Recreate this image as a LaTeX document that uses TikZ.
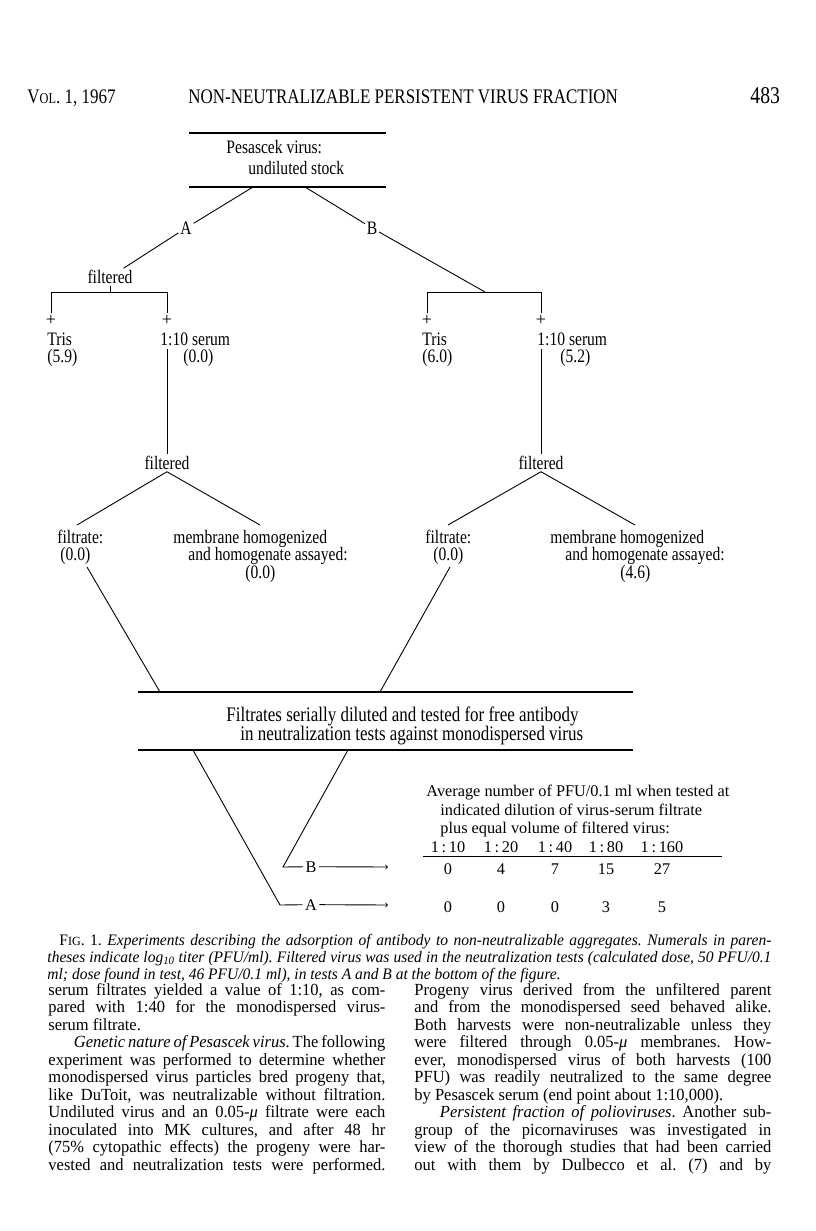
\documentclass[tikz,border=0pt]{standalone}
\usepackage{fontspec}
\setmainfont{Liberation Serif}
\newfontfamily\condfont[FakeStretch=0.82]{Liberation Serif}
\newfontfamily\bodyfont[FakeStretch=0.97]{Liberation Serif}
\frenchspacing

\begin{document}
\begin{tikzpicture}[x=1pt,y=-1pt,line width=0.9pt,
  txt/.style={inner sep=0pt,anchor=base west},
  fig/.style={txt,font=\condfont\fontsize{19}{21}\selectfont},
  big/.style={txt,font=\condfont\fontsize{20.7}{22}\selectfont},
  lbl/.style={inner sep=1.5pt,font=\condfont\fontsize{19}{21}\selectfont},
  plus/.style={inner sep=0pt,font=\fontsize{18}{18}\selectfont},
  tab/.style={inner sep=0pt,anchor=base,font=\fontsize{16.3}{18}\selectfont},
  body/.style={txt,font=\bodyfont\fontsize{17}{17.5}\selectfont},
  capt/.style={txt,font=\bodyfont\itshape\fontsize{16}{17}\selectfont},
  rule/.style={line width=1.2pt}]
  \useasboundingbox[fill=white] (0,0) rectangle (816,1231);

  % running head
  \node[big] (vol) at (27,103) {V{\fontsize{15}{16}\selectfont OL}. 1, 1967};
  \node[big] (title) at (188,103) {NON-NEUTRALIZABLE PERSISTENT VIRUS FRACTION};
  \node[big] (page) at (750,103) {\fontsize{24}{24}\selectfont 483};

  % points of the tree
  \coordinate (stockNW) at (189,133);
  \coordinate (stockNE) at (386,133);
  \coordinate (stockSW) at (189,187);
  \coordinate (stockSE) at (386,187);
  \coordinate (forkA) at (253,187);
  \coordinate (forkB) at (305,187);
  \coordinate (brA) at (110,292);
  \coordinate (brAl) at (51,292);
  \coordinate (brAr) at (167,292);
  \coordinate (brB) at (485,292);
  \coordinate (brBl) at (427,292);
  \coordinate (brBr) at (541,292);
  \coordinate (serA) at (167,349);
  \coordinate (serB) at (541,349);
  \coordinate (outA) at (87,567);
  \coordinate (outB) at (450,567);
  \coordinate (boxNW) at (138,692);
  \coordinate (boxNE) at (633,692);
  \coordinate (boxSW) at (138,750);
  \coordinate (boxSE) at (633,750);
  \coordinate (inA) at (160,692);
  \coordinate (inB) at (380,692);
  \coordinate (downA) at (193,750);
  \coordinate (downB) at (348,750);
  \coordinate (cornA) at (280,905);
  \coordinate (cornB) at (283,867);

  % stock
  \draw[rule] (stockNW) -- (stockNE);
  \draw[rule] (stockSW) -- (stockSE);
  \node[fig] (stock1) at (226,153) {Pesascek virus:};
  \node[fig] (stock2) at (248,174) {undiluted stock};
  \node[lbl] (lblA) at (186,228) {A};
  \node[lbl] (lblB) at (372,228) {B};
  \node[lbl] (filtA) at (110,277) {filtered};
  \draw (forkA) -- (lblA) -- (filtA);
  \draw (forkB) -- (lblB) -- (brB);

  % brackets
  \draw (filtA) -- (brA);
  \draw (brAl |- 0,313) -- (brAl) -- (brAr) -- (brAr |- 0,313);
  \draw (brBl |- 0,313) -- (brBl) -- (brBr) -- (brBr |- 0,313);
  \node[plus] (plusA1) at (51,320) {+};
  \node[plus] (plusA2) at (167,320) {+};
  \node[plus] (plusB1) at (427,320) {+};
  \node[plus] (plusB2) at (541,320) {+};
  \node[fig] (trisA) at (47,345) {Tris};
  \node[fig] (trisA2) at (47,362) {(5.9)};
  \node[fig] (serumA) at (160,345) {1:10 serum};
  \node[fig] (serumA2) at (183,362) {(0.0)};
  \node[fig] (trisB) at (422,345) {Tris};
  \node[fig] (trisB2) at (422,362) {(6.0)};
  \node[fig] (serumB) at (537,345) {1:10 serum};
  \node[fig] (serumB2) at (560,362) {(5.2)};

  % second filtration
  \node[lbl] (filtA2) at (167,463) {filtered};
  \node[lbl] (filtB2) at (541,463) {filtered};
  \draw (serA) -- (filtA2);
  \draw (serB) -- (filtB2);
  \node[fig] (frateA) at (57,543) {filtrate:};
  \node[fig] (frateA2) at (60,560) {(0.0)};
  \node[fig] (membA) at (173,543) {membrane homogenized};
  \node[fig] (membA2) at (188,560) {and homogenate assayed:};
  \node[fig] (membA3) at (245,578) {(0.0)};
  \node[fig] (frateB) at (425,543) {filtrate:};
  \node[fig] (frateB2) at (433,560) {(0.0)};
  \node[fig] (membB) at (550,543) {membrane homogenized};
  \node[fig] (membB2) at (565,560) {and homogenate assayed:};
  \node[fig] (membB3) at (620,578) {(4.6)};
  \draw (filtA2.south) -- (77,525);
  \draw (filtA2.south) -- (260,525);
  \draw (filtB2.south) -- (448,525);
  \draw (filtB2.south) -- (635,525);

  % neutralization box
  \draw (outA) -- (inA);
  \draw (outB) -- (inB);
  \draw[rule] (boxNW) -- (boxNE);
  \draw[rule] (boxSW) -- (boxSE);
  \node[big] (neut1) at (226,721) {Filtrates serially diluted and tested for free antibody};
  \node[big] (neut2) at (240,740) {in neutralization tests against monodispersed virus};

  % tests A and B
  \node[tab,inner sep=2pt] (testB) at (311,872) {B};
  \node[tab,inner sep=2pt] (testA) at (311,910) {A};
  \draw (downB) -- (cornB) -- (testB);
  \draw (downA) -- (cornA) -- (testA);
  \draw[->] (testB) -- (388,867);
  \draw[->] (testA) -- (388,905);

  % table
  \node[txt,font=\fontsize{16.3}{18}\selectfont] (avg1) at (426,796) {Average number of PFU/0.1 ml when tested at};
  \node[txt,font=\fontsize{16.3}{18}\selectfont] (avg2) at (440,815) {indicated dilution of virus-serum filtrate};
  \node[txt,font=\fontsize{16.3}{18}\selectfont] (avg3) at (440,833) {plus equal volume of filtered virus:};
  \draw (423,856) -- (722,856);
  \node[tab] (d1) at (448,852) {1\,:\,10};
  \node[tab] (d2) at (501,852) {1\,:\,20};
  \node[tab] (d3) at (555,852) {1\,:\,40};
  \node[tab] (d4) at (606,852) {1\,:\,80};
  \node[tab] (d5) at (662,852) {1\,:\,160};
  \node[tab] (b1) at (448,874) {0};
  \node[tab] (b2) at (501,874) {4};
  \node[tab] (b3) at (555,874) {7};
  \node[tab] (b4) at (606,874) {15};
  \node[tab] (b5) at (662,874) {27};
  \node[tab] (a1) at (448,912) {0};
  \node[tab] (a2) at (501,912) {0};
  \node[tab] (a3) at (555,912) {0};
  \node[tab] (a4) at (606,912) {3};
  \node[tab] (a5) at (662,912) {5};

  % caption
  \node[capt] (cap1) at (59,945) {\hbox to 712pt{\upshape F{\fontsize{12.5}{13}\selectfont IG}. 1. \itshape Experiments describing the adsorption of antibody to non-neutralizable aggregates. Numerals in paren-}};
  \node[capt] (cap2) at (47,962) {\hbox to 724pt{theses indicate log\textsubscript{10} titer (PFU/ml). Filtered virus was used in the neutralization tests (calculated dose, 50 PFU/0.1}};
  \node[capt] (cap3) at (47,979) {ml; dose found in test, 46 PFU/0.1 ml), in tests A and B at the bottom of the figure.};

  % left column
  \node[body] (l1) at (48,995) {\hbox to 337pt{serum filtrates yielded a value of 1:10, as com-}};
  \node[body] (l2) at (48,1012.5) {\hbox to 337pt{pared with 1:40 for the monodispersed virus-}};
  \node[body] (l3) at (48,1030) {serum filtrate.};
  \node[body] (l4) at (48,1047.5) {\hbox to 337pt{\hspace*{1.5em}\textit{Genetic nature of Pesascek virus}. The following}};
  \node[body] (l5) at (48,1065) {\hbox to 337pt{experiment was performed to determine whether}};
  \node[body] (l6) at (48,1082.5) {\hbox to 337pt{monodispersed virus particles bred progeny that,}};
  \node[body] (l7) at (48,1100) {\hbox to 337pt{like DuToit, was neutralizable without filtration.}};
  \node[body] (l8) at (48,1117.5) {\hbox to 337pt{Undiluted virus and an 0.05-\textit{μ} filtrate were each}};
  \node[body] (l9) at (48,1135) {\hbox to 337pt{inoculated into MK cultures, and after 48 hr}};
  \node[body] (l10) at (48,1152.5) {\hbox to 337pt{(75\% cytopathic effects) the progeny were har-}};
  \node[body] (l11) at (48,1170) {\hbox to 337pt{vested and neutralization tests were performed.}};

  % right column
  \node[body] (r1) at (414,995) {\hbox to 357pt{Progeny virus derived from the unfiltered parent}};
  \node[body] (r2) at (414,1012.5) {\hbox to 357pt{and from the monodispersed seed behaved alike.}};
  \node[body] (r3) at (414,1030) {\hbox to 357pt{Both harvests were non-neutralizable unless they}};
  \node[body] (r4) at (414,1047.5) {\hbox to 357pt{were filtered through 0.05-\textit{μ} membranes. How-}};
  \node[body] (r5) at (414,1065) {\hbox to 357pt{ever, monodispersed virus of both harvests (100}};
  \node[body] (r6) at (414,1082.5) {\hbox to 357pt{PFU) was readily neutralized to the same degree}};
  \node[body] (r7) at (414,1100) {by Pesascek serum (end point about 1:10,000).};
  \node[body] (r8) at (414,1117.5) {\hbox to 357pt{\hspace*{1.5em}\textit{Persistent fraction of polioviruses}. Another sub-}};
  \node[body] (r9) at (414,1135) {\hbox to 357pt{group of the picornaviruses was investigated in}};
  \node[body] (r10) at (414,1152.5) {\hbox to 357pt{view of the thorough studies that had been carried}};
  \node[body] (r11) at (414,1170) {\hbox to 357pt{out with them by Dulbecco et al. (7) and by}};
\end{tikzpicture}
\end{document}
